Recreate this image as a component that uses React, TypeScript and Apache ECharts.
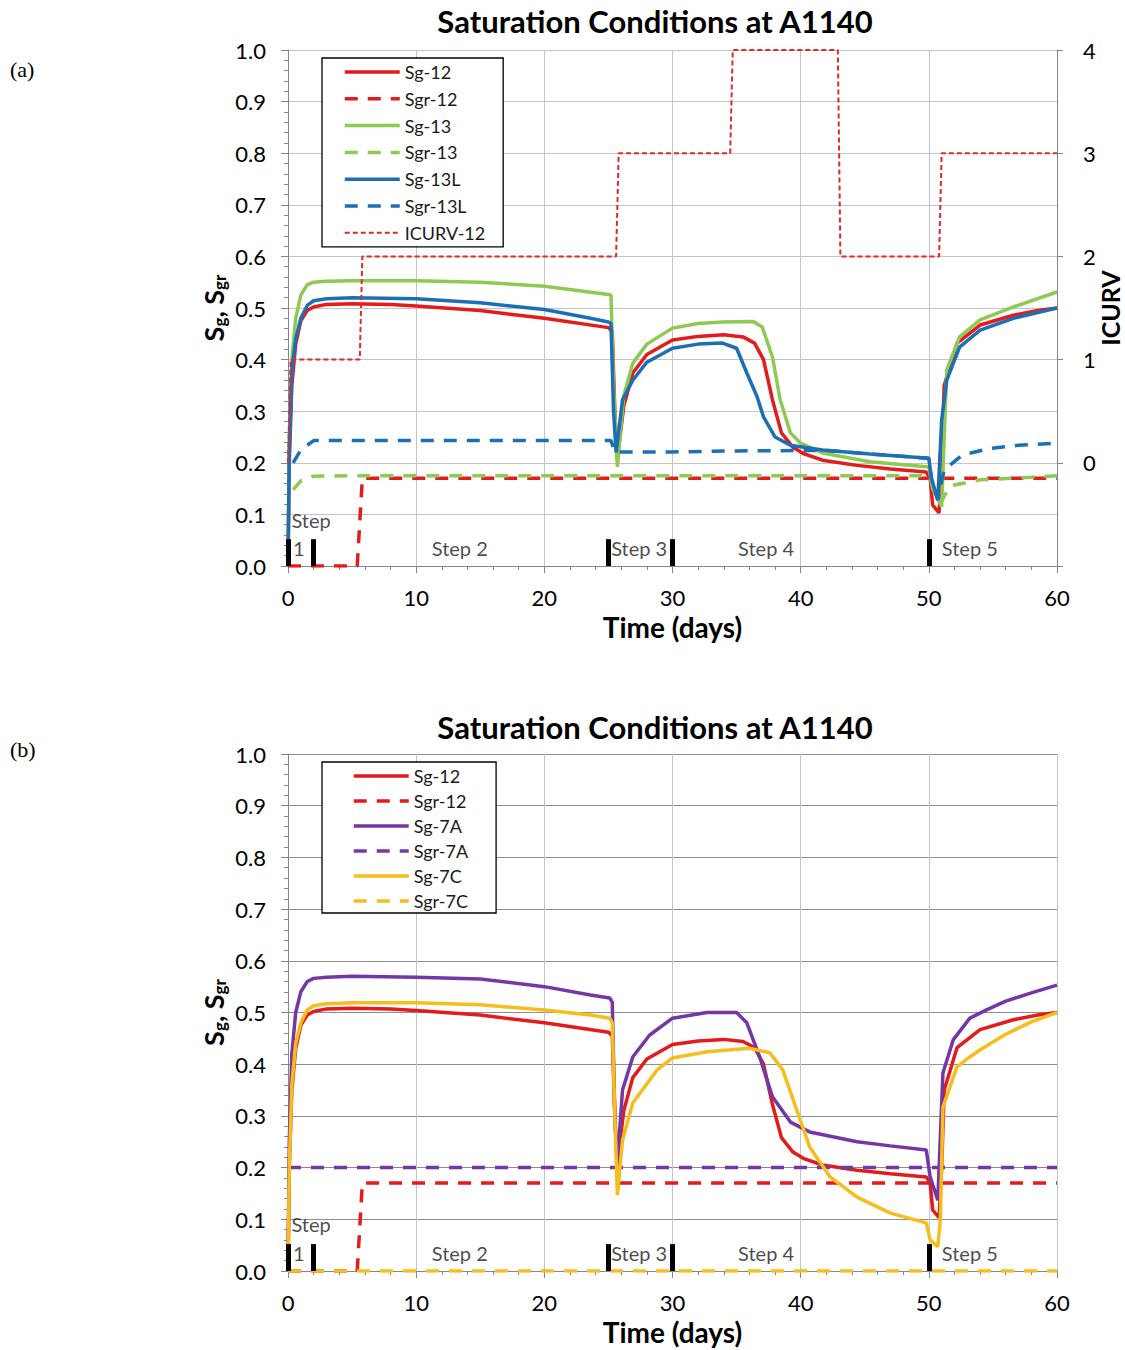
import React, { useEffect, useRef } from "react";
import * as echarts from "echarts";

type Pt = [number, number];

const FONT = "Lato, 'Noto Sans', sans-serif";
const RED = "#e31b1b";
const GREEN = "#8fc953";
const BLUE = "#1c6fb5";
const PURPLE = "#7537a6";
const YELLOW = "#f7bd1c";
const AXIS_GRAY = "#868686";

const TITLE = "Saturation Conditions at A1140";
const X_NAME = "Time (days)";

// ---------- Chart (a) ----------
const SG12: Pt[] = [
  [0, 0], [0.1, 0.2], [0.3, 0.35], [0.6, 0.43], [1, 0.475], [1.5, 0.495], [2, 0.502], [3, 0.507],
  [5, 0.508], [8, 0.507], [10, 0.504], [15, 0.495], [20, 0.48], [25, 0.462], [25.3, 0.455],
  [25.5, 0.3], [25.7, 0.205], [25.9, 0.25], [26.2, 0.31], [26.9, 0.374], [28, 0.41], [30, 0.438],
  [32, 0.445], [34, 0.448], [35.5, 0.444], [36.4, 0.432], [37.1, 0.4], [37.8, 0.322], [38.5, 0.258],
  [39.4, 0.23], [40.2, 0.218], [41.7, 0.205], [44.4, 0.195], [47, 0.188], [49.8, 0.182], [50.1, 0.17],
  [50.3, 0.118], [50.8, 0.103], [51, 0.2], [51.2, 0.35], [52.2, 0.432], [54, 0.467], [56.6, 0.486],
  [58.5, 0.495], [60, 0.5],
];
const SGR12: Pt[] = [[0, 0], [5.4, 0], [5.8, 0.17], [60, 0.17]];
const SG13: Pt[] = [
  [0, 0], [0.1, 0.25], [0.3, 0.4], [0.6, 0.48], [1, 0.525], [1.5, 0.545], [2, 0.55], [3, 0.552],
  [5, 0.553], [10, 0.553], [15, 0.55], [20, 0.542], [24.7, 0.527], [25.2, 0.525], [25.4, 0.35],
  [25.7, 0.192], [25.9, 0.25], [26.2, 0.33], [26.9, 0.393], [28, 0.43], [30, 0.461], [32, 0.47],
  [33.9, 0.473], [36.3, 0.474], [37, 0.463], [37.8, 0.405], [38.4, 0.322], [39.2, 0.258], [40, 0.238],
  [41.7, 0.219], [45.4, 0.202], [50, 0.192], [50.3, 0.15], [51, 0.115], [51.2, 0.25], [51.4, 0.38],
  [52.4, 0.444], [54, 0.477], [56.6, 0.502], [60, 0.531],
];
const SGR13: Pt[] = [
  [0.4, 0.148], [1, 0.165], [2, 0.174], [5, 0.175], [50, 0.175], [50.5, 0.14], [51, 0.125],
  [51.5, 0.15], [52, 0.157], [54, 0.167], [58, 0.172], [60, 0.175],
];
const SG13L: Pt[] = [
  [0, 0], [0.1, 0.22], [0.3, 0.38], [0.6, 0.44], [1, 0.48], [1.5, 0.505], [2, 0.514], [3, 0.518],
  [5, 0.52], [10, 0.518], [15, 0.51], [20, 0.497], [23.6, 0.48], [25, 0.473], [25.2, 0.47],
  [25.4, 0.3], [25.6, 0.22], [25.8, 0.26], [26.1, 0.322], [26.9, 0.36], [28, 0.395], [30, 0.422],
  [32, 0.43], [33.9, 0.432], [35, 0.422], [35.8, 0.374], [36.6, 0.328], [37.1, 0.289], [38, 0.25],
  [39.2, 0.234], [41.7, 0.225], [45.4, 0.217], [50, 0.209], [50.2, 0.17], [50.7, 0.128], [51, 0.283],
  [51.4, 0.36], [52.4, 0.424], [54, 0.457], [56.6, 0.48], [60, 0.5],
];
const SGR13L: Pt[] = [
  [0.4, 0.2], [1, 0.225], [2, 0.243], [5, 0.243], [25.2, 0.243], [25.5, 0.221], [30, 0.221],
  [35, 0.223], [42, 0.224], [45.4, 0.217], [50, 0.209], [50.2, 0.17], [50.7, 0.128], [51, 0.165],
  [51.2, 0.186], [52.6, 0.215], [54.8, 0.228], [57, 0.234], [60, 0.238],
];
const ICURV12: Pt[] = [
  [0, 0], [0.2, 1], [5.6, 1], [5.8, 2], [25.6, 2], [25.8, 3], [34.5, 3], [34.7, 4], [42.9, 4],
  [43.1, 2], [50.8, 2], [51, 3], [60, 3],
];

// ---------- Chart (b) ----------
const SG7A: Pt[] = [
  [0, 0], [0.1, 0.25], [0.3, 0.42], [0.6, 0.5], [1, 0.54], [1.5, 0.56], [2, 0.566], [3, 0.568],
  [5, 0.57], [10, 0.568], [15, 0.565], [20, 0.55], [23.6, 0.534], [25.1, 0.528], [25.3, 0.52],
  [25.5, 0.3], [25.7, 0.195], [25.9, 0.28], [26.1, 0.35], [26.9, 0.414], [28.2, 0.456], [30, 0.489],
  [32.7, 0.5], [35, 0.5], [35.8, 0.48], [36.8, 0.414], [37.8, 0.337], [39.2, 0.288], [40.7, 0.269],
  [44.4, 0.25], [47, 0.242], [49.8, 0.234], [50.1, 0.182], [50.7, 0.137], [51.1, 0.383], [51.9, 0.447],
  [53.2, 0.489], [54.5, 0.505], [56, 0.522], [58, 0.538], [60, 0.553],
];
const SGR7A: Pt[] = [[0, 0.2], [60, 0.2]];
const SG7C: Pt[] = [
  [0, 0], [0.1, 0.2], [0.3, 0.36], [0.6, 0.44], [1, 0.48], [1.5, 0.505], [2, 0.513], [3, 0.517],
  [5, 0.519], [10, 0.519], [15, 0.515], [20, 0.505], [23.6, 0.495], [25.1, 0.489], [25.3, 0.48],
  [25.5, 0.3], [25.7, 0.147], [25.9, 0.2], [26.1, 0.253], [26.9, 0.325], [28.8, 0.389], [30, 0.412],
  [32.7, 0.424], [36, 0.431], [37.6, 0.422], [38.6, 0.389], [39.7, 0.311], [40.7, 0.24], [42.3, 0.182],
  [44.4, 0.143], [47, 0.112], [49.8, 0.093], [50.1, 0.06], [50.7, 0.047], [50.9, 0.1], [51.1, 0.317],
  [52.2, 0.395], [53.2, 0.414], [54, 0.428], [56, 0.458], [58, 0.482], [60, 0.5],
];
const SGR7C: Pt[] = [[0, 0], [60, 0]];

// ---------- Step annotations ----------
const STEP_BARS = [0, 2, 25, 30, 50];
const STEP_BAR_TOP = 0.052;
const STEP_LABELS: [number, number, string][] = [
  [1.8, 0.09, "Step"], [0.85, 0.035, "1"], [13.4, 0.035, "Step 2"], [27.4, 0.035, "Step 3"],
  [37.3, 0.035, "Step 4"], [53.2, 0.035, "Step 5"],
];

const DASH: number[] = [13, 10];
const DOT: number[] = [5, 3];

function lineSeries(name: string, data: Pt[], color: string, dashed: boolean, yAxisIndex = 0, width = 3.5, type: any = "solid") {
  return {
    type: "line",
    name,
    data,
    symbol: "none",
    showSymbol: false,
    yAxisIndex,
    silent: true,
    itemStyle: { color },
    lineStyle: { color, width, type: dashed ? DASH : type },
    z: 3,
  };
}

function stepSeries() {
  return {
    type: "scatter",
    name: "steps",
    data: STEP_LABELS,
    symbolSize: 1,
    silent: true,
    itemStyle: { color: "transparent" },
    label: {
      show: true,
      position: "inside",
      formatter: (p: any) => p.data[2],
      fontSize: 20,
      color: "#1a1a1a",
      fontFamily: FONT,
    },
    z: 6,
    markLine: {
      silent: true,
      symbol: ["none", "none"],
      label: { show: false },
      emphasis: { disabled: true },
      lineStyle: { color: "#000", width: 5, type: "solid" },
      data: STEP_BARS.map((x) => [{ coord: [x, 0] }, { coord: [x, STEP_BAR_TOP] }]),
    },
  };
}

function xAxis(splitColor: string) {
  return {
    type: "value",
    min: 0,
    max: 60,
    interval: 10,
    name: X_NAME,
    nameLocation: "middle",
    nameGap: 47,
    nameMoveOverlap: false,
    nameTextStyle: { fontSize: 28, fontWeight: "bold", color: "#000", fontFamily: FONT },
    axisLine: { show: true, onZero: false, lineStyle: { color: AXIS_GRAY, width: 1 } },
    axisTick: { show: true, length: 7, lineStyle: { color: AXIS_GRAY } },
    minorTick: { show: true, splitNumber: 5, length: 4, lineStyle: { color: AXIS_GRAY } },
    axisLabel: { fontSize: 22, color: "#000", margin: 20, fontFamily: FONT },
    splitLine: { show: true, lineStyle: { color: splitColor, width: 1 } },
  };
}

function leftAxis(splitColor: string) {
  return {
    type: "value",
    min: 0,
    max: 1,
    interval: 0.1,
    position: "left",
    name: "{s|S}{b|g}{s|, S}{b|gr}",
    nameLocation: "middle",
    nameGap: 60,
    nameRotate: 90,
    nameMoveOverlap: false,
    nameTextStyle: {
      rich: {
        s: { fontSize: 27, fontWeight: "bold", fontFamily: FONT, color: "#000", lineHeight: 30 },
        b: { fontSize: 17, fontWeight: "bold", fontFamily: FONT, color: "#000", lineHeight: 12, verticalAlign: "bottom" },
      },
    },
    axisLine: { show: true, lineStyle: { color: AXIS_GRAY, width: 1 } },
    axisTick: { show: true, length: 7, lineStyle: { color: AXIS_GRAY } },
    minorTick: { show: true, splitNumber: 5, length: 4, lineStyle: { color: AXIS_GRAY } },
    axisLabel: { fontSize: 22, color: "#000", margin: 22, fontFamily: FONT, formatter: (v: number) => v.toFixed(1) },
    splitLine: { show: true, lineStyle: { color: splitColor, width: 1 } },
  };
}

function legend(names: string[], top: number, gap: number, padding: number[], special?: string) {
  return {
    orient: "vertical",
    left: 322,
    top,
    itemWidth: 55,
    itemHeight: 20,
    itemGap: gap,
    padding,
    borderColor: "#000",
    borderWidth: 1.3,
    backgroundColor: "#fff",
    selectedMode: false,
    itemStyle: { opacity: 0 },
    lineStyle: { width: 3.5 },
    textStyle: { fontSize: 18, fontFamily: FONT, color: "#1a1a1a", lineHeight: 20 },
    data: names.map((n) => (n === special ? { name: n, lineStyle: { width: 2 } } : { name: n })),
  };
}

function optionA(): any {
  return {
    animation: false,
    backgroundColor: "#fff",
    title: {
      text: TITLE,
      left: 650,
      top: 0,
      textAlign: "center",
      textStyle: { fontSize: 31, fontWeight: "bold", fontFamily: FONT, color: "#000" },
    },
    graphic: [
      { type: "text", left: 10, top: 58, style: { text: "(a)", fontSize: 22, fontFamily: "'Liberation Serif', serif", fill: "#000" } },
    ],
    grid: { left: 288, right: 68, top: 50, height: 516, outerBoundsMode: "none", containLabel: false },
    legend: legend(["Sg-12", "Sgr-12", "Sg-13", "Sgr-13", "Sg-13L", "Sgr-13L", "ICURV-12"], 58, 6.8, [4, 18, 4, 21], "ICURV-12"),
    xAxis: xAxis("#c4c4c4"),
    yAxis: [
      leftAxis("#c4c4c4"),
      {
        type: "value",
        min: -1,
        max: 4,
        interval: 1,
        position: "right",
        name: "ICURV",
        nameLocation: "middle",
        nameRotate: 90,
        nameGap: 40,
        nameMoveOverlap: false,
        nameTextStyle: { fontSize: 25, fontWeight: "bold", color: "#000", fontFamily: FONT },
        axisLine: { show: true, lineStyle: { color: AXIS_GRAY, width: 1 } },
        axisTick: { show: true, length: 6, lineStyle: { color: AXIS_GRAY } },
        axisLabel: { fontSize: 22, color: "#000", margin: 26, fontFamily: FONT, formatter: (v: number) => (v < 0 ? "" : String(v)) },
        splitLine: { show: false },
      },
    ],
    series: [
      lineSeries("Sg-12", SG12, RED, false),
      lineSeries("Sgr-12", SGR12, RED, true),
      lineSeries("Sg-13", SG13, GREEN, false),
      lineSeries("Sgr-13", SGR13, GREEN, true),
      lineSeries("Sg-13L", SG13L, BLUE, false),
      lineSeries("Sgr-13L", SGR13L, BLUE, true),
      lineSeries("ICURV-12", ICURV12, "#e02a2a", false, 1, 2, DOT),
      stepSeries(),
    ],
  };
}

function optionB(): any {
  return {
    animation: false,
    backgroundColor: "#fff",
    title: {
      text: TITLE,
      left: 650,
      top: 31,
      textAlign: "center",
      textStyle: { fontSize: 31, fontWeight: "bold", fontFamily: FONT, color: "#000" },
    },
    graphic: [
      { type: "text", left: 10, top: 63, style: { text: "(b)", fontSize: 22, fontFamily: "'Liberation Serif', serif", fill: "#000" } },
    ],
    grid: { left: 288, right: 68, top: 79, height: 517, outerBoundsMode: "none", containLabel: false },
    legend: legend(["Sg-12", "Sgr-12", "Sg-7A", "Sgr-7A", "Sg-7C", "Sgr-7C"], 87, 5, [4, 28, 2, 30]),
    xAxis: xAxis("#c4c4c4"),
    yAxis: [leftAxis("#8e8e8e")],
    series: [
      lineSeries("Sg-12", SG12, RED, false),
      lineSeries("Sgr-12", SGR12, RED, true),
      lineSeries("Sg-7A", SG7A, PURPLE, false),
      lineSeries("Sgr-7A", SGR7A, PURPLE, true),
      lineSeries("Sg-7C", SG7C, YELLOW, false),
      lineSeries("Sgr-7C", SGR7C, YELLOW, true),
      stepSeries(),
    ],
  };
}

function ChartBox({ option }: { option: any }) {
  const ref = useRef<HTMLDivElement>(null);
  useEffect(() => {
    if (!ref.current) return;
    const chart = echarts.init(ref.current, undefined, { renderer: "svg" });
    chart.setOption(option);
    return () => chart.dispose();
  }, [option]);
  return <div ref={ref} style={{ width: 1125, height: 675 }} />;
}

const OPT_A = optionA();
const OPT_B = optionB();

export default function App() {
  return (
    <div style={{ position: "absolute", left: 0, top: 0, width: 1125, height: 1350, background: "#fff" }}>
      <ChartBox option={OPT_A} />
      <ChartBox option={OPT_B} />
    </div>
  );
}
